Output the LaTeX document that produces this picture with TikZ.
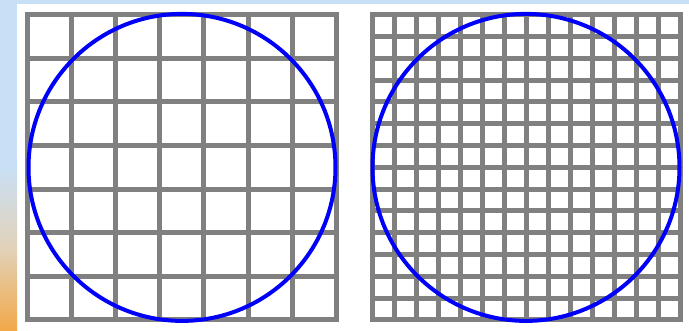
\documentclass[tikz,border=0pt]{standalone}
\usepackage{tikz}
\definecolor{GridGray}{RGB}{128,128,128}
\definecolor{RingBlue}{RGB}{0,0,250}
\definecolor{PaneBlue}{RGB}{200,224,246}
\definecolor{PaneAmber}{RGB}{242,168,72}

\begin{document}
\begin{tikzpicture}[
      x=1pt,y=-1pt,
      gridline/.style={draw=GridGray,line width=5pt,line cap=rect},
      ring/.style={draw=RingBlue,line width=4pt}
    ]
      \useasboundingbox (0,0) rectangle (689,331);
      % backdrop
      \fill[white] (0,0) rectangle (689,331);
      \fill[PaneBlue] (0,0) rectangle (689,4);
      \fill[PaneBlue] (0,0) rectangle (17,165);
      \shade[top color=PaneBlue,bottom color=PaneAmber,middle color=PaneBlue!55!PaneAmber!80!white]
        (0,165) rectangle (17,331);

      % coarse grid, 7 x 7
      \foreach \i in {0,...,7} {
        \draw[gridline] ({27.5+\i*44.1},14.8) -- ({27.5+\i*44.1},319);
        \draw[gridline] (27.5,{14.8+\i*43.6}) -- (336.2,{14.8+\i*43.6});
      }
      \draw[ring] (182,167.4) circle (153.5);

      % fine grid, 14 x 14
      \foreach \i in {0,...,14} {
        \draw[gridline] ({372+\i*22},14.8) -- ({372+\i*22},319);
        \draw[gridline] (372,{14.8+\i*21.8}) -- (680,{14.8+\i*21.8});
      }
      \draw[ring] (526,167.4) circle (153.5);
    \end{tikzpicture}
\end{document}
